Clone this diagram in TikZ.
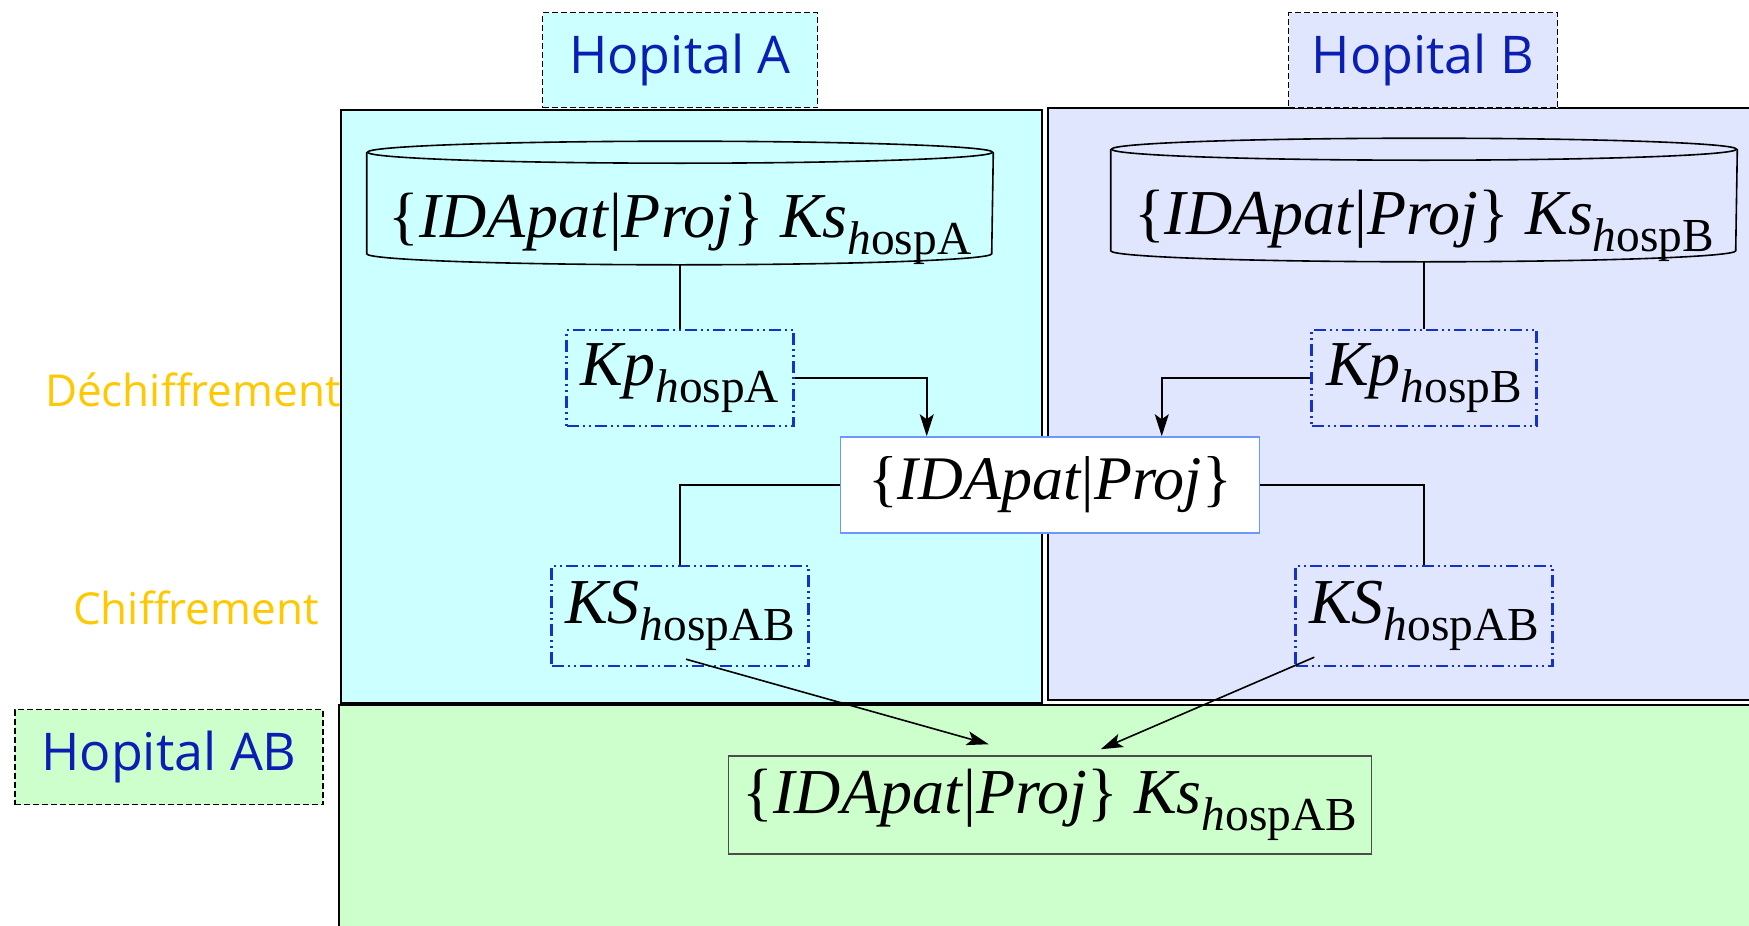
\documentclass[tikz,border=0pt]{standalone}
\usepackage{fontspec}
\setmainfont{Liberation Serif}
\newfontfamily\labelfont{Open Sans}
\usetikzlibrary{arrows.meta}
\definecolor{cyanA}{RGB}{204,255,255}
\definecolor{lavB}{RGB}{225,230,255}
\definecolor{greenAB}{RGB}{204,255,204}
\definecolor{labblue}{RGB}{10,30,180}
\definecolor{keyblue}{RGB}{20,50,200}
\definecolor{clairblue}{RGB}{110,150,255}
\definecolor{phaseorange}{RGB}{255,200,0}
\newcommand{\idp}{\{\textit{IDApat}|\textit{Proj}\}}
\newcommand{\lowsub}[1]{\raisebox{-0.27em}{\scalebox{0.74}{#1}}}
\newcommand{\drum}[1]{%
  \draw ([yshift=-11pt]#1.north west) -- ([yshift=11pt]#1.south west)
    arc[start angle=180,end angle=360,x radius=312.5pt,y radius=11pt]
    -- ([yshift=-11pt]#1.north east);
  \draw ([yshift=-11pt]#1.north) ellipse [x radius=312.5pt,y radius=11pt];}
\begin{document}
\begin{tikzpicture}[x=1pt,y=-1pt,line width=1.6pt,
  >={Stealth[length=22pt,width=14pt,inset=5pt]},
  lab/.style={draw,dash pattern=on 6pt off 3pt,line width=1.5pt,minimum height=95pt,
    text=labblue,font=\labelfont\fontsize{52}{56}\selectfont},
  phase/.style={text=phaseorange,font=\labelfont\fontsize{44}{48}\selectfont},
  db/.style={minimum width=625pt,minimum height=122pt,inner sep=0pt,
    text height=76pt,text depth=8pt,font=\fontsize{64}{70}\selectfont},
  keybox/.style={draw=keyblue,line width=2.4pt,
    dash pattern=on 12pt off 4pt on 2pt off 4pt on 2pt off 4pt,
    minimum height=96pt,font=\fontsize{64}{70}\selectfont},
  clairbox/.style={draw=clairblue,fill=white,line width=1.5pt,minimum width=419pt,
    minimum height=96pt,font=\fontsize{62}{68}\selectfont},
  resbox/.style={draw=black!70,fill=greenAB,line width=1.5pt,minimum width=643pt,
    minimum height=98pt,font=\fontsize{64}{70}\selectfont}]
\useasboundingbox (0,0) rectangle (1749,926);
\filldraw[fill=cyanA] (341,110) rectangle (1042,703);
\filldraw[fill=lavB] (1048,108) rectangle (1752,700);
\filldraw[fill=greenAB,line width=2.5pt] (339,705) rectangle (1752,930);
\node[lab,fill=cyanA,minimum width=275pt] (hopA) at (680,60) {Hopital A};
\node[lab,fill=lavB,minimum width=269pt] (hopB) at (1423,60) {Hopital B};
\node[lab,fill=greenAB,minimum width=308pt] (hopAB) at (169,757) {Hopital AB};
\node[phase] (dech) at (193,390) {Déchiffrement};
\node[phase] (chif) at (196,608) {Chiffrement};
\node[db] (dbA) at (680,203) {\idp\ \textit{Ks}\lowsub{\textit{h}ospA}};
\node[db] (dbB) at (1424,200) {\idp\ \textit{Ks}\lowsub{\textit{h}ospB}};
\drum{dbA}
\drum{dbB}
\node[keybox,minimum width=227pt] (kpA) at (680,378) {\textit{Kp}\lowsub{\textit{h}ospA}};
\node[keybox,minimum width=225pt] (kpB) at (1424,378) {\textit{Kp}\lowsub{\textit{h}ospB}};
\node[clairbox] (clair) at (1050,485) {\idp};
\node[keybox,minimum width=257pt,minimum height=100pt] (ksA) at (680,616) {\textit{KS}\lowsub{\textit{h}ospAB}};
\node[keybox,minimum width=257pt,minimum height=100pt] (ksB) at (1424,616) {\textit{KS}\lowsub{\textit{h}ospAB}};
\node[resbox] (chiffAB) at (1050,805) {\idp\ \textit{Ks}\lowsub{\textit{h}ospAB}};
\draw (dbA) -- (kpA);
\draw (dbB) -- (kpB);
\draw[->] (kpA.east) -| ([xshift=87pt]clair.north west);
\draw[->] (kpB.west) -| ([xshift=322pt]clair.north west);
\draw (clair.west) -| (ksA.north);
\draw (clair.east) -| (ksB.north);
\draw[->] ([xshift=6pt,yshift=8pt]ksA.south) -- ([xshift=261pt,yshift=11pt]chiffAB.north west);
\draw[->] ([xshift=20pt,yshift=10pt]ksB.south west) -- ([xshift=373pt,yshift=6pt]chiffAB.north west);
\end{tikzpicture}
\end{document}
